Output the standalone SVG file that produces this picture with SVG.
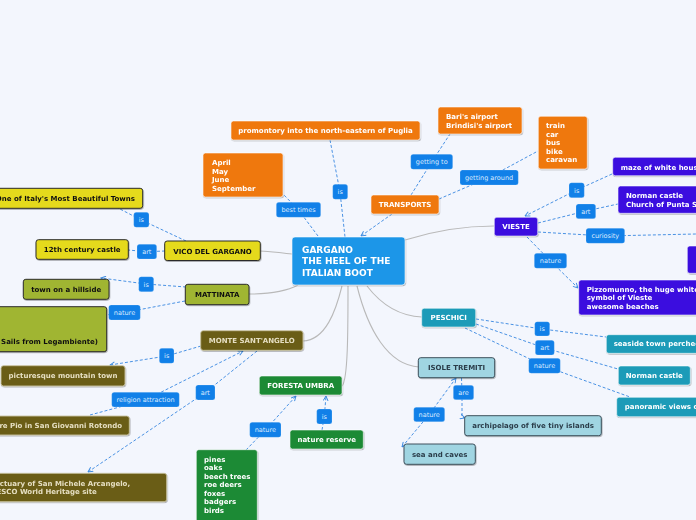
<svg xmlns="http://www.w3.org/2000/svg" width="696" height="520" viewBox="0 0 696 520">
<defs>
<style>
.t{font-family:"DejaVu Sans",Verdana,sans-serif;font-size:7px;font-weight:bold}
.c{text-anchor:middle}
.w{fill:#ffffff}
.k{fill:#111111}
.lt{fill:#e6dfc2}
.dk{fill:#2b3d4a}
.lab rect{fill:#1180e8;stroke:#ffffff;stroke-opacity:.35;stroke-width:.5}
.lab text{font-family:"DejaVu Sans",Verdana,sans-serif;font-size:6.5px;fill:#dcebff;text-anchor:middle}
.dash{fill:none;stroke:#4a92e4;stroke-width:1;stroke-dasharray:3 2}
.solid{fill:none;stroke:#b9b9b9;stroke-width:1.1}
.or{fill:#ef7811;stroke:#ffffff;stroke-opacity:.7;stroke-width:.8}
.pu{fill:#3a0fdf;stroke:#ffffff;stroke-opacity:.7;stroke-width:.8}
.ye{fill:#e5da1d;stroke:#2c2c2c;stroke-width:1}
.ol{fill:#a0b533;stroke:#2c2c2c;stroke-width:1}
.do{fill:#6a5d17;stroke:#c9c3a0;stroke-width:.9}
.gr{fill:#1d8a36;stroke:#ffffff;stroke-opacity:.7;stroke-width:.8}
.te{fill:#1a9bb8;stroke:#ffffff;stroke-opacity:.7;stroke-width:.8}
.lb{fill:#a0d5e2;stroke:#3e505c;stroke-width:1}
.ce{fill:#1d96e8;stroke:#ffffff;stroke-opacity:.7;stroke-width:.8}
</style>
<filter id="sh" x="-10%" y="-20%" width="120%" height="150%">
<feDropShadow dx="0.6" dy="1" stdDeviation="0.6" flood-color="#000" flood-opacity="0.3"/>
</filter>
<marker id="arr" viewBox="0 0 10 10" refX="9" refY="5" markerWidth="6" markerHeight="6" orient="auto-start-reverse" markerUnits="userSpaceOnUse">
<path d="M1,1 L9,5 L1,9" fill="none" stroke="#3d8be0" stroke-width="1.6"/>
</marker>
</defs>
<rect x="0" y="0" width="696" height="520" fill="#f3f6fd"/>

<g id="connectors">
<path class="solid" d="M292,254 C280,253 270,251 260,251"/>
<path class="solid" d="M298,285 C285,292 266,294 249,294"/>
<path class="solid" d="M342,286 C336,310 326,340 303,341"/>
<path class="solid" d="M348,286 C348,330 348,380 342,386"/>
<path class="solid" d="M367,286 C380,303 398,316 422,317"/>
<path class="solid" d="M357,286 C368,330 388,365 419,367"/>
<path class="solid" d="M405,240 C440,229 470,226 494,226"/>

<path class="dash" d="M330,140 L340,192 L345,237"/>
<path class="dash" d="M318,236 L298.5,210 L283,194"/>
<path class="dash" d="M392,214 L361,236" marker-end="url(#arr)"/>
<path class="dash" d="M411,195 L431.7,162 L450,134"/>
<path class="dash" d="M439,199 L489,177.5 L538,151"/>
<path class="dash" d="M612,174 L576.7,190 L525,216" marker-end="url(#arr)"/>
<path class="dash" d="M538,223 L586,211 L618,204"/>
<path class="dash" d="M538,232 L605,236 L696,234"/>
<path class="dash" d="M527,237 L550.5,261 L578,288" marker-end="url(#arr)"/>
<path class="dash" d="M186,241 L141.3,220 L118,208"/>
<path class="dash" d="M165,251 L147,251.7 L128,250"/>
<path class="dash" d="M186,287 L146,284 L101,278" marker-end="url(#arr)"/>
<path class="dash" d="M185,301 L124.5,312.5 L106,315"/>
<path class="dash" d="M201,346 L166.7,356 L110,365" marker-end="url(#arr)"/>
<path class="dash" d="M90,415 L145.5,400 L243,351" marker-end="url(#arr)"/>
<path class="dash" d="M257,351 L205.3,392.5 L88,472" marker-end="url(#arr)"/>
<path class="dash" d="M246,450 L265.3,430 L296,396" marker-end="url(#arr)"/>
<path class="dash" d="M322,430 L324.3,416.5 L326,396" marker-end="url(#arr)"/>
<path class="dash" d="M476,319 L542,329 L606,337"/>
<path class="dash" d="M476,324 L544.8,348 L618,369"/>
<path class="dash" d="M465,328 L544.5,366 L630,397"/>
<path class="dash" d="M461.5,378 L462,392.5 L462,417 L465,418" marker-end="url(#arr)"/>
<path class="dash" d="M402,447 L429.2,414.5 L456,378" marker-start="url(#arr)" marker-end="url(#arr)"/>
</g>

<g id="edge-labels">
<g class="lab"><rect x="276.3" y="202.3" width="44.4" height="15" rx="2.5"/><text x="298.5" y="212.3">best times</text></g>
<g class="lab"><rect x="332.7" y="184.3" width="15" height="15" rx="2.5"/><text x="340.2" y="194.3">is</text></g>
<g class="lab"><rect x="410.7" y="154.3" width="42" height="15" rx="2.5"/><text x="431.7" y="164.3">getting to</text></g>
<g class="lab"><rect x="460" y="170" width="58.3" height="15" rx="2.5"/><text x="489.1" y="180">getting around</text></g>
<g class="lab"><rect x="569" y="182.7" width="15.3" height="15" rx="2.5"/><text x="576.7" y="192.7">is</text></g>
<g class="lab"><rect x="576" y="204" width="19.7" height="14.7" rx="2.5"/><text x="585.8" y="213.8">art</text></g>
<g class="lab"><rect x="586" y="228.3" width="38.7" height="15" rx="2.5"/><text x="605.3" y="238.3">curiosity</text></g>
<g class="lab"><rect x="534.3" y="253.3" width="32.4" height="15" rx="2.5"/><text x="550.5" y="263.3">nature</text></g>
<g class="lab"><rect x="133.7" y="212.3" width="15.3" height="15" rx="2.5"/><text x="141.3" y="222.3">is</text></g>
<g class="lab"><rect x="137" y="244.3" width="19.7" height="14.7" rx="2.5"/><text x="146.8" y="254.1">art</text></g>
<g class="lab"><rect x="138.7" y="276.7" width="15" height="15" rx="2.5"/><text x="146.2" y="286.7">is</text></g>
<g class="lab"><rect x="108.7" y="305" width="31.6" height="15" rx="2.5"/><text x="124.5" y="315">nature</text></g>
<g class="lab"><rect x="159.3" y="348.3" width="14.7" height="15" rx="2.5"/><text x="166.7" y="358.3">is</text></g>
<g class="lab"><rect x="111.7" y="392.3" width="67.6" height="14.7" rx="2.5"/><text x="145.5" y="402.1">religion attraction</text></g>
<g class="lab"><rect x="195.7" y="385" width="19.3" height="15" rx="2.5"/><text x="205.3" y="395">art</text></g>
<g class="lab"><rect x="249.7" y="422.3" width="31.3" height="15" rx="2.5"/><text x="265.3" y="432.3">nature</text></g>
<g class="lab"><rect x="316.7" y="409" width="15.3" height="15" rx="2.5"/><text x="324.3" y="419">is</text></g>
<g class="lab"><rect x="534.7" y="321.7" width="15" height="14.3" rx="2.5"/><text x="542.2" y="331.3">is</text></g>
<g class="lab"><rect x="535.3" y="340.3" width="19" height="14.7" rx="2.5"/><text x="544.8" y="350.1">art</text></g>
<g class="lab"><rect x="528.7" y="358.3" width="31.6" height="15" rx="2.5"/><text x="544.5" y="368.3">nature</text></g>
<g class="lab"><rect x="453.3" y="385.3" width="20.4" height="14.4" rx="2.5"/><text x="463.5" y="395">are</text></g>
<g class="lab"><rect x="413.7" y="407.3" width="31" height="14.4" rx="2.5"/><text x="429.2" y="417">nature</text></g>
</g>

<g id="n-center" filter="url(#sh)"><rect class="ce" x="292" y="237" width="113" height="48" rx="3"/>
<text class="t w" style="font-size:9px" x="302" y="253">GARGANO</text>
<text class="t w" style="font-size:9px" x="302" y="264.3">THE HEEL OF THE</text>
<text class="t w" style="font-size:9px" x="302" y="275.6">ITALIAN BOOT</text></g>

<g id="n-promontory" filter="url(#sh)"><rect class="or" x="231" y="121" width="189" height="19" rx="2.5"/><text class="t w c" x="325.5" y="133.2">promontory into the north-eastern of Puglia</text></g>
<g id="n-months" filter="url(#sh)"><rect class="or" x="203" y="153" width="80" height="44" rx="2.5"/>
<text class="t w" x="212" y="164.9">April</text><text class="t w" x="212" y="173.6">May</text><text class="t w" x="212" y="182.3">June</text><text class="t w" x="212" y="191">September</text></g>
<g id="n-airports" filter="url(#sh)"><rect class="or" x="438" y="107" width="84" height="27" rx="2.5"/>
<text class="t w" x="446" y="118.9">Bari's airport</text><text class="t w" x="446" y="127.9">Brindisi's airport</text></g>
<g id="n-transports" filter="url(#sh)"><rect class="or" x="371" y="195" width="68" height="19" rx="2.5"/><text class="t w c" x="405" y="207.2">TRANSPORTS</text></g>
<g id="n-means" filter="url(#sh)"><rect class="or" x="538.3" y="116.3" width="49" height="52.7" rx="2.5"/>
<text class="t w" x="546" y="128.2">train</text><text class="t w" x="546" y="136.9">car</text><text class="t w" x="546" y="145.2">bus</text><text class="t w" x="546" y="153.6">bike</text><text class="t w" x="546" y="161.9">caravan</text></g>

<g id="n-vieste" filter="url(#sh)"><rect class="pu" x="494.3" y="217.3" width="43.4" height="18.7" rx="2.5"/><text class="t w c" x="516" y="229.2">VIESTE</text></g>
<g id="n-maze" filter="url(#sh)"><rect class="pu" x="612.7" y="157.3" width="100" height="18.4" rx="2.5"/><text class="t w" x="620.7" y="169.9">maze of white houses</text></g>
<g id="n-vieste-art" filter="url(#sh)"><rect class="pu" x="618" y="186" width="100" height="27.3" rx="2.5"/>
<text class="t w" x="626" y="197.9">Norman castle</text><text class="t w" x="626" y="206.6">Church of Punta San Francesco</text></g>
<g id="n-curiosity" filter="url(#sh)"><rect class="pu" x="687.3" y="246" width="40" height="27.3" rx="2.5"/></g>
<g id="n-pizzomunno" filter="url(#sh)"><rect class="pu" x="578.7" y="280" width="140" height="35" rx="2.5"/>
<text class="t w" x="586.7" y="291.9">Pizzomunno, the huge white monolith</text><text class="t w" x="586.7" y="300.3">symbol of Vieste</text><text class="t w" x="586.7" y="308.9">awesome beaches</text></g>

<g id="n-vico" filter="url(#sh)"><rect class="ye" x="164.7" y="241" width="95.6" height="19.5" rx="2.5"/><text class="t k c" x="212.5" y="253.5">VICO DEL GARGANO</text></g>
<g id="n-vico-is" filter="url(#sh)"><rect class="ye" x="-12" y="188.3" width="154.7" height="20" rx="2.5"/><text class="t k" style="text-anchor:end" x="135" y="201.2">One of Italy's Most Beautiful Towns</text></g>
<g id="n-castle12" filter="url(#sh)"><rect class="ye" x="36" y="239.7" width="92.3" height="19.6" rx="2.5"/><text class="t k c" x="82.2" y="252.2">12th century castle</text></g>

<g id="n-mattinata" filter="url(#sh)"><rect class="ol" x="185.3" y="284.3" width="63.7" height="20.4" rx="2.5"/><text class="t k c" x="217.2" y="297.2">MATTINATA</text></g>
<g id="n-hillside" filter="url(#sh)"><rect class="ol" x="23.3" y="279.3" width="85.7" height="20" rx="2.5"/><text class="t k c" x="66.2" y="291.9">town on a hillside</text></g>
<g id="n-mattinata-nature" filter="url(#sh)"><rect class="ol" x="-20" y="306.7" width="126.7" height="45" rx="2.5"/><text class="t k" style="text-anchor:end" x="98" y="343.6">Sails from Legambiente)</text></g>

<g id="n-monte" filter="url(#sh)"><rect class="do" x="200.7" y="330.7" width="102.3" height="19.6" rx="2.5"/><text class="t lt c" x="251.8" y="342.9">MONTE SANT'ANGELO</text></g>
<g id="n-picturesque" filter="url(#sh)"><rect class="do" x="1" y="365.7" width="124" height="20.3" rx="2.5"/><text class="t lt c" x="63" y="378.2">picturesque mountain town</text></g>
<g id="n-padrepio" filter="url(#sh)"><rect class="do" x="-20" y="416" width="149.3" height="19" rx="2.5"/><text class="t lt" style="text-anchor:end" x="122" y="428.2">Padre Pio in San Giovanni Rotondo</text></g>
<g id="n-sanctuary" filter="url(#sh)"><rect class="do" x="-24" y="473.3" width="190.7" height="28.4" rx="2.5"/>
<text class="t lt" x="-15" y="485.6">Sanctuary of San Michele Arcangelo,</text><text class="t lt" x="-15" y="493.9">UNESCO World Heritage site</text></g>

<g id="n-foresta" filter="url(#sh)"><rect class="gr" x="259.3" y="376" width="82.7" height="19" rx="2.5"/><text class="t w c" x="300.7" y="387.9">FORESTA UMBRA</text></g>
<g id="n-reserve" filter="url(#sh)"><rect class="gr" x="290" y="430" width="73.3" height="19" rx="2.5"/><text class="t w c" x="326.7" y="442.2">nature reserve</text></g>
<g id="n-fauna" filter="url(#sh)"><rect class="gr" x="196.3" y="449.7" width="61" height="75" rx="2.5"/>
<text class="t w" x="204" y="461.9">pines</text><text class="t w" x="204" y="470.3">oaks</text><text class="t w" x="204" y="478.9">beech trees</text><text class="t w" x="204" y="486.9">roe deers</text><text class="t w" x="204" y="495.6">foxes</text><text class="t w" x="204" y="503.9">badgers</text><text class="t w" x="204" y="512.6">birds</text></g>

<g id="n-peschici" filter="url(#sh)"><rect class="te" x="421.7" y="308.3" width="54" height="18.7" rx="2.5"/><text class="t w c" x="448.7" y="319.9">PESCHICI</text></g>
<g id="n-seaside" filter="url(#sh)"><rect class="te" x="606.3" y="334.7" width="110" height="18.6" rx="2.5"/><text class="t w" x="613.7" y="345.9">seaside town perched on a cliff</text></g>
<g id="n-norman" filter="url(#sh)"><rect class="te" x="618.3" y="366" width="72" height="19" rx="2.5"/><text class="t w c" x="654.3" y="377.9">Norman castle</text></g>
<g id="n-panoramic" filter="url(#sh)"><rect class="te" x="616.7" y="397.3" width="110" height="19.4" rx="2.5"/><text class="t w" x="624.7" y="409.2">panoramic views of the sea</text></g>

<g id="n-isole" filter="url(#sh)"><rect class="lb" x="418.3" y="357.7" width="76.4" height="20" rx="2.5"/><text class="t dk c" x="456.5" y="369.9">ISOLE TREMITI</text></g>
<g id="n-archipelago" filter="url(#sh)"><rect class="lb" x="464.7" y="415.7" width="136.6" height="20" rx="2.5"/><text class="t dk c" x="533" y="428.2">archipelago of five tiny islands</text></g>
<g id="n-seacaves" filter="url(#sh)"><rect class="lb" x="404" y="444" width="71.3" height="20.3" rx="2.5"/><text class="t dk c" x="439.7" y="456.9">sea and caves</text></g>
</svg>
